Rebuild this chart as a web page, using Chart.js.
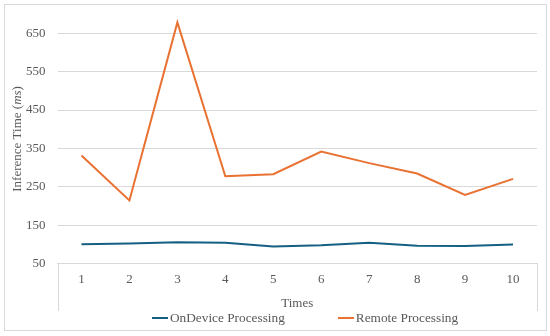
<!DOCTYPE html>
<html>
<head>
<meta charset="utf-8">
<script src="https://cdn.jsdelivr.net/npm/chart.js@4.4.1/dist/chart.umd.min.js"></script>
<style>
    html, body { margin: 0; padding: 0; background: #fff; }
    #wrap { position: relative; width: 550px; height: 336px; }
    #frame {
        position: absolute; left: 4px; top: 4px; width: 543px; height: 327px;
        box-sizing: border-box; border: 1px solid #d9d9d9;
    }
    #chart { position: absolute; left: 0; top: 0; }
    #legend {
        position: absolute; left: 152px; top: 309px; height: 18px;
        display: flex; align-items: center; gap: 53px;
        font-family: "Liberation Serif", "Times New Roman", serif;
        font-size: 13.3px; color: #595959;
    }
    .item { display: flex; align-items: center; white-space: nowrap; }
    .swatch { display: inline-block; width: 16px; height: 2px; margin-right: 2px; }
</style>
</head>
<body>
<div id="wrap">
    <div id="frame"></div>
    <canvas id="chart" width="550" height="336"></canvas>
    <div id="legend"></div>
</div>
<script>
// データ
const times = ['1', '2', '3', '4', '5', '6', '7', '8', '9', '10'];
const onDevice = [101, 103, 106, 105, 95, 98, 105, 97, 96, 100];
const remote = [332, 215, 678, 278, 283, 342, 312, 285, 229, 271];
const yTicks = [50, 150, 250, 350, 450, 550, 650];

const seriesNames = ['OnDevice Processing', 'Remote Processing'];
const seriesColors = ['#156082', '#E97132'];

const serif = '"Liberation Serif", "Times New Roman", serif';
const textColor = '#595959';
const gridColor = '#d9d9d9';

// x軸の下の枠線（左右の縦線）
const axisBoxPlugin = {
    id: 'axisBox',
    beforeDatasetsDraw(chart) {
        const { ctx, chartArea, scales } = chart;
        ctx.save();
        ctx.strokeStyle = gridColor;
        ctx.lineWidth = 1;
        ctx.beginPath();
        [chartArea.left, chartArea.right].forEach(px => {
            const x = Math.round(px) + 0.5;
            ctx.moveTo(x, chartArea.bottom);
            ctx.lineTo(x, scales.x.bottom);
        });
        ctx.stroke();
        ctx.restore();
    }
};

// y軸タイトル（ms はイタリック）
const yTitlePlugin = {
    id: 'yTitle',
    afterDraw(chart) {
        const { ctx, chartArea, scales } = chart;
        const parts = [
            { text: 'Inference Time (', font: '13px ' + serif },
            { text: 'ms', font: 'italic 13px ' + serif },
            { text: ')', font: '13px ' + serif }
        ];
        ctx.save();
        let total = 0;
        parts.forEach(p => {
            ctx.font = p.font;
            p.w = ctx.measureText(p.text).width;
            total += p.w;
        });
        const cx = scales.y.left - 8;
        const cy = (chartArea.top + chartArea.bottom) / 2;
        ctx.translate(cx, cy);
        ctx.rotate(-Math.PI / 2);
        ctx.fillStyle = textColor;
        ctx.textBaseline = 'middle';
        ctx.textAlign = 'left';
        let x = -total / 2;
        parts.forEach(p => {
            ctx.font = p.font;
            ctx.fillText(p.text, x, 0);
            x += p.w;
        });
        ctx.restore();
    }
};

const ctx = document.getElementById('chart').getContext('2d');
const chart = new Chart(ctx, {
    type: 'line',
    data: {
        labels: times,
        datasets: [
            {
                label: seriesNames[0],
                data: onDevice,
                borderColor: seriesColors[0],
                backgroundColor: seriesColors[0],
                borderWidth: 2,
                pointRadius: 0,
                tension: 0
            },
            {
                label: seriesNames[1],
                data: remote,
                borderColor: seriesColors[1],
                backgroundColor: seriesColors[1],
                borderWidth: 2,
                pointRadius: 0,
                tension: 0
            }
        ]
    },
    options: {
        responsive: false,
        animation: false,
        layout: {
            padding: { left: 26, top: 14, right: 13, bottom: 25 }
        },
        scales: {
            x: {
                offset: true,
                grid: { display: false, drawTicks: false },
                border: { display: true, color: gridColor },
                // fit() は padding を2倍で取るので1つ分戻す
                afterFit(scale) {
                    scale.height -= scale.options.ticks.padding;
                },
                ticks: {
                    padding: 8,
                    color: textColor,
                    font: { family: serif, size: 13 }
                },
                title: {
                    display: true,
                    text: 'Times',
                    color: textColor,
                    font: { family: serif, size: 13 },
                    padding: { top: 8, bottom: 0 }
                }
            },
            y: {
                min: 50,
                max: 700,
                grid: { color: gridColor, drawTicks: false },
                border: { display: false },
                afterBuildTicks(scale) {
                    scale.ticks = yTicks.map(v => ({ value: v }));
                },
                afterFit(scale) {
                    scale.width -= scale.options.ticks.padding;
                    // 上端の目盛ラベル用の余白は不要
                    scale.paddingTop = 0;
                    scale.paddingBottom = 0;
                },
                ticks: {
                    padding: 12,
                    color: textColor,
                    font: { family: serif, size: 13 }
                }
            }
        },
        plugins: {
            legend: { display: false },
            tooltip: { enabled: false }
        }
    },
    plugins: [axisBoxPlugin, yTitlePlugin]
});

// 凡例（HTML）
const legendEl = document.getElementById('legend');
chart.data.datasets.forEach(ds => {
    const item = document.createElement('span');
    item.className = 'item';
    const sw = document.createElement('span');
    sw.className = 'swatch';
    sw.style.background = ds.borderColor;
    item.appendChild(sw);
    item.appendChild(document.createTextNode(ds.label));
    legendEl.appendChild(item);
});
</script>
</body>
</html>
